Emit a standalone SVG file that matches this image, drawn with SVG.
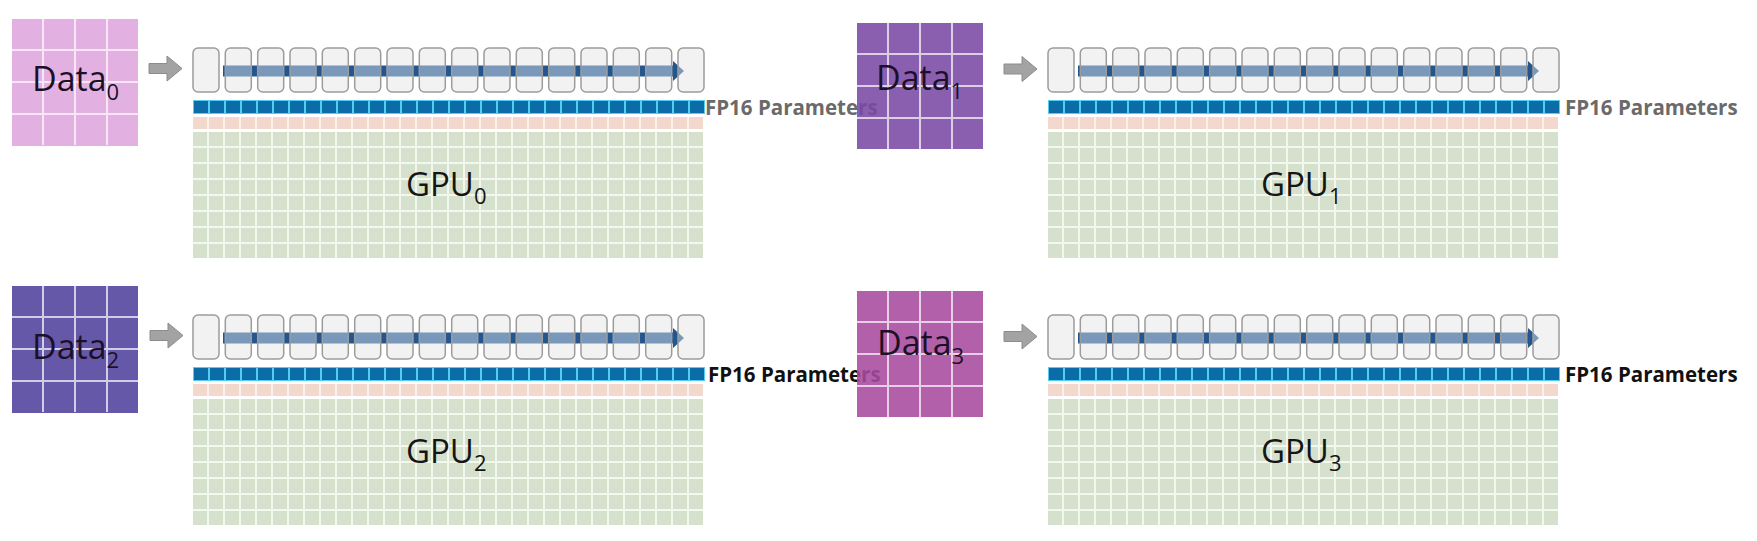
<svg xmlns="http://www.w3.org/2000/svg" xmlns:xlink="http://www.w3.org/1999/xlink" width="1757" height="541" viewBox="0 0 1757 541">
<style>
.boxbg{fill:#f1f1f1}
.boxfg{fill:#f3f3f3;fill-opacity:0.42;stroke:#9c9c9c;stroke-width:1.5}
.flow{fill:#23568f}
.garrow{fill:#a3a3a3;stroke:#8c8c8c;stroke-width:1}
.fp{font-family:"Open Sans","Liberation Sans",sans-serif;font-weight:700;font-size:20.5px}
.fpg{fill:#6a6a6a}
.fpb{fill:#111}
.gpu{font-family:"Open Sans","Liberation Sans",sans-serif;font-size:33px;fill:#151515}
.dat{font-family:"Open Sans","Liberation Sans",sans-serif;font-size:34px;fill:#1c1028}
</style>
<defs>
<pattern id="pBlue" patternUnits="userSpaceOnUse" x="193" y="100" width="16" height="14">
<rect width="16" height="14" fill="#55cdf0"/><rect x="1" y="1" width="14" height="12" fill="#0b6ca8"/>
</pattern>
<pattern id="pPink" patternUnits="userSpaceOnUse" x="193" y="117" width="16" height="12">
<rect width="16" height="12" fill="#fbf0ec"/><rect width="14" height="12" fill="#f2d8cd"/>
</pattern>
<pattern id="pGreen" patternUnits="userSpaceOnUse" x="193" y="132" width="16" height="16">
<rect width="16" height="16" fill="#f3f8ef"/><rect width="14" height="14" fill="#d6e1cd"/>
</pattern>
<path id="dgrid" d="M31 0V126M63 0V126M95 0V126M0 31H126M0 63H126M0 95H126" stroke="#ffffff" stroke-opacity="0.7" stroke-width="2" fill="none"/>
<g id="boxes">
<rect x="193" y="48" width="26" height="44" rx="5"/>
<rect x="225.3" y="48" width="26" height="44" rx="5"/>
<rect x="257.7" y="48" width="26" height="44" rx="5"/>
<rect x="290" y="48" width="26" height="44" rx="5"/>
<rect x="322.3" y="48" width="26" height="44" rx="5"/>
<rect x="354.7" y="48" width="26" height="44" rx="5"/>
<rect x="387" y="48" width="26" height="44" rx="5"/>
<rect x="419.3" y="48" width="26" height="44" rx="5"/>
<rect x="451.7" y="48" width="26" height="44" rx="5"/>
<rect x="484" y="48" width="26" height="44" rx="5"/>
<rect x="516.3" y="48" width="26" height="44" rx="5"/>
<rect x="548.7" y="48" width="26" height="44" rx="5"/>
<rect x="581" y="48" width="26" height="44" rx="5"/>
<rect x="613.3" y="48" width="26" height="44" rx="5"/>
<rect x="645.7" y="48" width="26" height="44" rx="5"/>
<rect x="678" y="48" width="26" height="44" rx="5"/>
</g>
<g id="gpuBody">
<use href="#boxes" class="boxbg"/>
<path class="flow" d="M223 65.5H673V61L684 71L673 81V76.5H223Z"/>
<use href="#boxes" class="boxfg"/>
<rect x="193" y="100" width="512" height="14" fill="url(#pBlue)"/>
<rect x="193" y="117" width="510" height="12" fill="url(#pPink)"/>
<rect x="193" y="132" width="510" height="126" fill="url(#pGreen)"/>
</g>
</defs>
<rect width="1757" height="541" fill="#ffffff"/>

<g id="gpu0">
<use href="#gpuBody"/>
<text class="fp fpg" x="705" y="115">FP16 Parameters</text>
<text class="gpu" x="406" y="196">GPU<tspan font-size="22" dy="8">0</tspan></text>
</g>
<g id="gpu1" transform="translate(855,0)">
<use href="#gpuBody"/>
<text class="fp fpg" x="710" y="115">FP16 Parameters</text>
<text class="gpu" x="406" y="196">GPU<tspan font-size="22" dy="8">1</tspan></text>
</g>
<g id="gpu2" transform="translate(0,267)">
<use href="#gpuBody"/>
<text class="fp fpb" x="708" y="115">FP16 Parameters</text>
<text class="gpu" x="406" y="196">GPU<tspan font-size="22" dy="8">2</tspan></text>
</g>
<g id="gpu3" transform="translate(855,267)">
<use href="#gpuBody"/>
<text class="fp fpb" x="710" y="115">FP16 Parameters</text>
<text class="gpu" x="406" y="196">GPU<tspan font-size="22" dy="8">3</tspan></text>
</g>

<g id="connectors">
<path class="garrow" d="M149 63.5H167V56L182 68.5L167 81V73.5H149Z"/>
<path class="garrow" d="M1004 64H1022V56.5L1037 69L1022 81.5V74H1004Z"/>
<path class="garrow" d="M150 330.5H168V323L183 335.5L168 348V340.5H150Z"/>
<path class="garrow" d="M1004 331.5H1022V324L1037 336.5L1022 349V341.5H1004Z"/>
</g>

<g id="data0" transform="translate(12,19)">
<rect width="126" height="127" fill="#e3b0e2"/>
<use href="#dgrid"/>
<text class="dat" x="20" y="72">Data<tspan font-size="22" dy="9">0</tspan></text>
</g>
<g id="data1" transform="translate(857,23)">
<g opacity="0.88">
<rect width="126" height="126" fill="#7a49a4"/>
<use href="#dgrid"/>
</g>
<text class="dat" x="19" y="67">Data<tspan font-size="22" dy="9">1</tspan></text>
</g>
<g id="data2" transform="translate(12,286)">
<rect width="126" height="127" fill="#6658a8"/>
<use href="#dgrid"/>
<text class="dat" x="20" y="73">Data<tspan font-size="22" dy="9">2</tspan></text>
</g>
<g id="data3" transform="translate(857,291)">
<g opacity="0.88">
<rect width="126" height="126" fill="#a94b9f"/>
<use href="#dgrid"/>
</g>
<text class="dat" x="20" y="64">Data<tspan font-size="22" dy="9">3</tspan></text>
</g>
</svg>
